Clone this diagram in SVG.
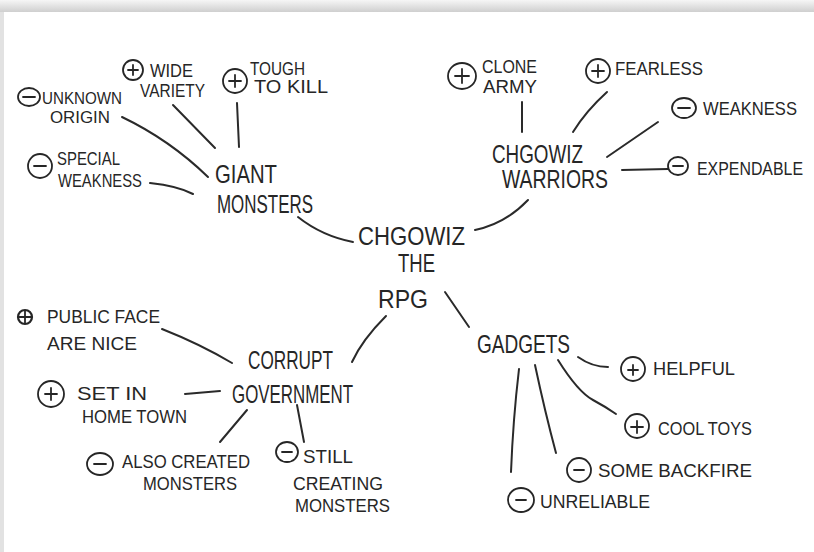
<svg xmlns="http://www.w3.org/2000/svg" width="814" height="552" viewBox="0 0 814 552">
<defs>
<linearGradient id="topShade" x1="0" y1="0" x2="0" y2="1">
<stop offset="0" stop-color="#f6f6f6"/>
<stop offset="1" stop-color="#cfcfcf"/>
</linearGradient>
<style>
.t{font-family:"Liberation Sans",Arial,sans-serif;fill:#262626;font-size:18px}
.m{font-size:25px}
.c{fill:none;stroke:#262626;stroke-width:1.8}
.s{stroke:#262626;stroke-width:1.8;stroke-linecap:round}
.l{fill:none;stroke:#2a2a2a;stroke-width:2;stroke-linecap:round}
</style>
</defs>
<rect x="0" y="0" width="814" height="552" fill="#e2e2e2"/>
<rect x="0" y="0" width="814" height="12" fill="url(#topShade)"/>
<rect x="4" y="12" width="810" height="540" fill="#ffffff"/>

<g id="connectors">
<path class="l" d="M298,217 Q322,236 353,242"/>
<path class="l" d="M475,230 Q505,224 528,200"/>
<path class="l" d="M386,316 Q362,340 352,362"/>
<path class="l" d="M445,292 L469,327"/>
<path class="l" d="M122,117 Q170,140 208,177"/>
<path class="l" d="M173,105 L215,148"/>
<path class="l" d="M237,103 L239,147"/>
<path class="l" d="M150,183 Q178,186 193,194"/>
<path class="l" d="M522,102 L522,132"/>
<path class="l" d="M607,92 Q586,111 573,132"/>
<path class="l" d="M658,122 L607,157"/>
<path class="l" d="M622,170 L668,169"/>
<path class="l" d="M162,329 Q200,344 232,363"/>
<path class="l" d="M185,394 L220,391"/>
<path class="l" d="M247,410 L220,442"/>
<path class="l" d="M297,405 L304,442"/>
<path class="l" d="M578,357 Q592,367 608,367"/>
<path class="l" d="M558,360 Q578,392 593,400 Q606,407 616,414"/>
<path class="l" d="M535,365 Q545,412 556,453"/>
<path class="l" d="M519,369 Q513,420 511,472"/>
</g>

<g id="center">
<text class="t m" x="358" y="245" textLength="107" lengthAdjust="spacingAndGlyphs">CHGOWIZ</text>
<text class="t m" x="398" y="272" textLength="37" lengthAdjust="spacingAndGlyphs">THE</text>
<text class="t m" x="378" y="308" textLength="50" lengthAdjust="spacingAndGlyphs">RPG</text>
</g>

<g id="giant-monsters">
<text class="t m" x="215" y="183" textLength="62" lengthAdjust="spacingAndGlyphs">GIANT</text>
<text class="t m" x="217" y="213" textLength="96" lengthAdjust="spacingAndGlyphs">MONSTERS</text>
</g>

<g id="unknown-origin">
<ellipse class="c" cx="29" cy="97" rx="11" ry="9"/>
<line class="s" x1="23" y1="97" x2="35" y2="97"/>
<text class="t" x="42" y="104" textLength="80" lengthAdjust="spacingAndGlyphs" style="font-size:17px">UNKNOWN</text>
<text class="t" x="50" y="123" textLength="60" lengthAdjust="spacingAndGlyphs" style="font-size:17px">ORIGIN</text>
</g>

<g id="wide-variety">
<circle class="c" cx="133" cy="70" r="10"/>
<line class="s" x1="128" y1="70" x2="138" y2="70"/>
<line class="s" x1="133" y1="65" x2="133" y2="75"/>
<text class="t" x="150" y="77" textLength="43" lengthAdjust="spacingAndGlyphs">WIDE</text>
<text class="t" x="140" y="97" textLength="65" lengthAdjust="spacingAndGlyphs">VARIETY</text>
</g>

<g id="tough-to-kill">
<circle class="c" cx="235" cy="81" r="12"/>
<line class="s" x1="229" y1="81" x2="241" y2="81"/>
<line class="s" x1="235" y1="75" x2="235" y2="87"/>
<text class="t" x="250" y="75" textLength="55" lengthAdjust="spacingAndGlyphs">TOUGH</text>
<text class="t" x="254" y="93" textLength="74" lengthAdjust="spacingAndGlyphs">TO  KILL</text>
</g>

<g id="special-weakness">
<circle class="c" cx="40" cy="166" r="12"/>
<line class="s" x1="34" y1="166" x2="46" y2="166"/>
<text class="t" x="57" y="165" textLength="63" lengthAdjust="spacingAndGlyphs">SPECIAL</text>
<text class="t" x="58" y="187" textLength="84" lengthAdjust="spacingAndGlyphs">WEAKNESS</text>
</g>

<g id="chgowiz-warriors">
<text class="t m" x="492" y="163" textLength="91" lengthAdjust="spacingAndGlyphs">CHGOWIZ</text>
<text class="t m" x="502" y="188" textLength="106" lengthAdjust="spacingAndGlyphs">WARRIORS</text>
</g>

<g id="clone-army">
<ellipse class="c" cx="462" cy="76" rx="14" ry="13"/>
<line class="s" x1="455" y1="76" x2="469" y2="76"/>
<line class="s" x1="462" y1="69" x2="462" y2="83"/>
<text class="t" x="482" y="73" textLength="55" lengthAdjust="spacingAndGlyphs">CLONE</text>
<text class="t" x="483" y="93" textLength="54" lengthAdjust="spacingAndGlyphs">ARMY</text>
</g>

<g id="fearless">
<circle class="c" cx="598" cy="71" r="12"/>
<line class="s" x1="592" y1="71" x2="604" y2="71"/>
<line class="s" x1="598" y1="65" x2="598" y2="77"/>
<text class="t" x="615" y="75" textLength="88" lengthAdjust="spacingAndGlyphs">FEARLESS</text>
</g>

<g id="weakness">
<ellipse class="c" cx="684" cy="108" rx="12" ry="10"/>
<line class="s" x1="678" y1="108" x2="690" y2="108"/>
<text class="t" x="703" y="115" textLength="94" lengthAdjust="spacingAndGlyphs">WEAKNESS</text>
</g>

<g id="expendable">
<ellipse class="c" cx="678" cy="166" rx="10" ry="9"/>
<line class="s" x1="673" y1="166" x2="683" y2="166"/>
<text class="t" x="697" y="175" textLength="106" lengthAdjust="spacingAndGlyphs">EXPENDABLE</text>
</g>

<g id="corrupt-government">
<text class="t m" x="248" y="369" textLength="85" lengthAdjust="spacingAndGlyphs">CORRUPT</text>
<text class="t m" x="232" y="403" textLength="121" lengthAdjust="spacingAndGlyphs">GOVERNMENT</text>
</g>

<g id="public-face">
<circle class="c" cx="25" cy="317" r="7" style="stroke-width:2.2"/>
<line class="s" x1="19" y1="317" x2="31" y2="317"/>
<line class="s" x1="25" y1="311" x2="25" y2="323"/>
<text class="t" x="47" y="323" textLength="113" lengthAdjust="spacingAndGlyphs">PUBLIC  FACE</text>
<text class="t" x="47" y="350" textLength="90" lengthAdjust="spacingAndGlyphs">ARE  NICE</text>
</g>

<g id="set-in-home-town">
<circle class="c" cx="51" cy="394" r="13"/>
<line class="s" x1="45" y1="394" x2="57" y2="394"/>
<line class="s" x1="51" y1="388" x2="51" y2="400"/>
<text class="t" x="77" y="400" textLength="70" lengthAdjust="spacingAndGlyphs">SET  IN</text>
<text class="t" x="82" y="423" textLength="105" lengthAdjust="spacingAndGlyphs">HOME  TOWN</text>
</g>

<g id="also-created-monsters">
<ellipse class="c" cx="100" cy="464" rx="13" ry="11"/>
<line class="s" x1="94" y1="464" x2="106" y2="464"/>
<text class="t" x="122" y="468" textLength="128" lengthAdjust="spacingAndGlyphs">ALSO CREATED</text>
<text class="t" x="143" y="490" textLength="94" lengthAdjust="spacingAndGlyphs">MONSTERS</text>
</g>

<g id="still-creating-monsters">
<ellipse class="c" cx="287" cy="452" rx="11" ry="10"/>
<line class="s" x1="282" y1="452" x2="292" y2="452"/>
<text class="t" x="303" y="463" textLength="50" lengthAdjust="spacingAndGlyphs">STILL</text>
<text class="t" x="293" y="490" textLength="90" lengthAdjust="spacingAndGlyphs">CREATING</text>
<text class="t" x="295" y="512" textLength="95" lengthAdjust="spacingAndGlyphs">MONSTERS</text>
</g>

<g id="gadgets">
<text class="t m" x="477" y="353" textLength="93" lengthAdjust="spacingAndGlyphs">GADGETS</text>
</g>

<g id="helpful">
<circle class="c" cx="633" cy="369" r="12"/>
<line class="s" x1="628" y1="370" x2="638" y2="370"/>
<line class="s" x1="633" y1="365" x2="633" y2="375"/>
<text class="t" x="653" y="375" textLength="82" lengthAdjust="spacingAndGlyphs">HELPFUL</text>
</g>

<g id="cool-toys">
<circle class="c" cx="637" cy="426" r="12"/>
<line class="s" x1="631" y1="427" x2="643" y2="427"/>
<line class="s" x1="637" y1="421" x2="637" y2="433"/>
<text class="t" x="658" y="435" textLength="94" lengthAdjust="spacingAndGlyphs">COOL  TOYS</text>
</g>

<g id="some-backfire">
<circle class="c" cx="579" cy="470" r="12"/>
<line class="s" x1="574" y1="470" x2="584" y2="470"/>
<text class="t" x="598" y="477" textLength="154" lengthAdjust="spacingAndGlyphs">SOME  BACKFIRE</text>
</g>

<g id="unreliable">
<ellipse class="c" cx="521" cy="500" rx="13" ry="12"/>
<line class="s" x1="516" y1="500" x2="526" y2="500"/>
<text class="t" x="540" y="508" textLength="110" lengthAdjust="spacingAndGlyphs">UNRELIABLE</text>
</g>
</svg>
